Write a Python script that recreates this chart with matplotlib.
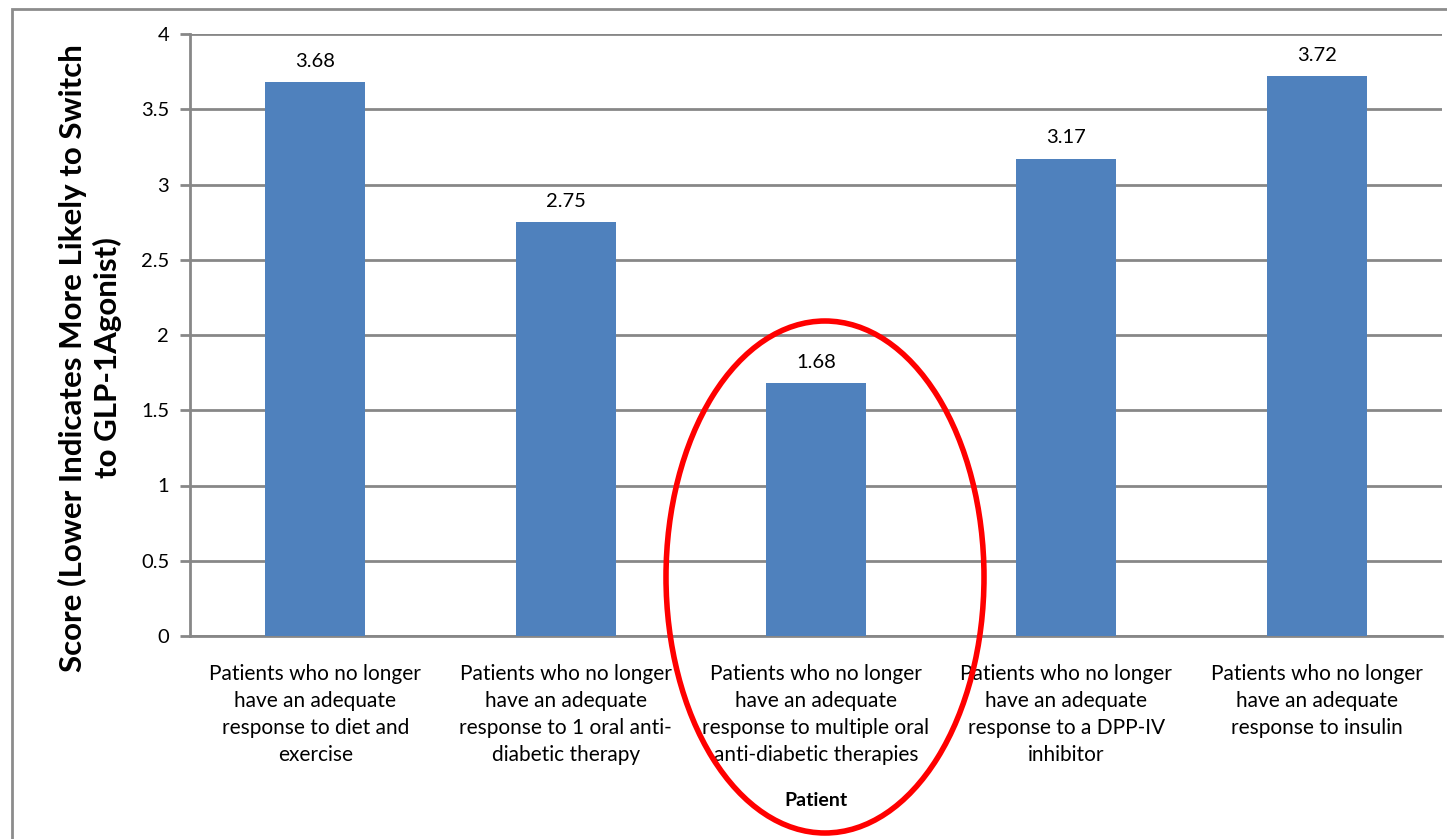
import matplotlib.pyplot as plt
from matplotlib.patches import Ellipse, Rectangle

# Mean score per patient group (lower = more likely to switch)
categories = [
    "Patients who no longer\nhave an adequate\nresponse to diet and\nexercise",
    "Patients who no longer\nhave an adequate\nresponse to 1 oral anti-\ndiabetic therapy",
    "Patients who no longer\nhave an adequate\nresponse to multiple oral\nanti-diabetic therapies",
    "Patients who no longer\nhave an adequate\nresponse to a DPP-IV\ninhibitor",
    "Patients who no longer\nhave an adequate\nresponse to insulin",
]
scores = [3.68, 2.75, 1.68, 3.17, 3.72]
yticks = [0, 0.5, 1, 1.5, 2, 2.5, 3, 3.5, 4]

plt.rcParams['font.family'] = ['Lato', 'DejaVu Sans']

W, H = 1447, 839
fig = plt.figure(figsize=(W / 100, H / 100), dpi=100)
ax = fig.add_axes([190 / W, 1 - 636 / H, (1442 - 190) / W, (636 - 34) / H])

grid_col = "#878787"
bar_col = "#4F81BD"

x = list(range(len(categories)))
ax.bar(x, scores, width=0.4, color=bar_col, zorder=3)
for xi, v in zip(x, scores):
    ax.annotate(f"{v:.2f}", (xi, v), xytext=(0, 9), textcoords="offset points",
                ha="center", va="bottom", fontsize=14.5, color="black")

ax.set_xlim(-0.5, len(categories) - 0.5)
ax.set_ylim(0, 4)
ax.set_yticks(yticks)
ax.set_yticklabels([f"{t:g}" for t in yticks], fontsize=14.5)
ax.set_xticks(x)
ax.set_xticklabels(categories, fontsize=15, linespacing=1.45)
ax.tick_params(axis="x", length=0, pad=20)
ax.tick_params(axis="y", length=7, width=2, color=grid_col, pad=8)

ax.grid(axis="y", color=grid_col, linewidth=2, zorder=0)
for side in ["top", "right"]:
    ax.spines[side].set_visible(False)
for side in ["left", "bottom"]:
    ax.spines[side].set_color(grid_col)
    ax.spines[side].set_linewidth(2)

ax.set_ylabel("Score (Lower Indicates More Likely to Switch\nto GLP-1Agonist)",
              fontsize=22.5, fontweight="bold", linespacing=1.25)
ax.yaxis.set_label_coords(-68 / (1442 - 190), 0.5 - 23 / (636 - 34))
ax.set_xlabel("Patient", fontsize=14, fontweight="bold")
ax.xaxis.set_label_coords(0.5, -(792 - 636) / (636 - 34))

# chart frame (runs past the bottom/right edge)
fig.patches.append(Rectangle((12 / W, -0.1), 1.2, 1 - 9 / H + 0.1,
                             transform=fig.transFigure, fill=False,
                             edgecolor="#8c8c8c", linewidth=2, zorder=0))

# highlight around the multiple-oral-therapies bar
fig.patches.append(Ellipse((825 / W, 1 - 577 / H), 318 / W, 512 / H,
                           transform=fig.transFigure, fill=False,
                           edgecolor="#ff0000", linewidth=4, zorder=10))

fig.savefig("out.png", dpi=100)
